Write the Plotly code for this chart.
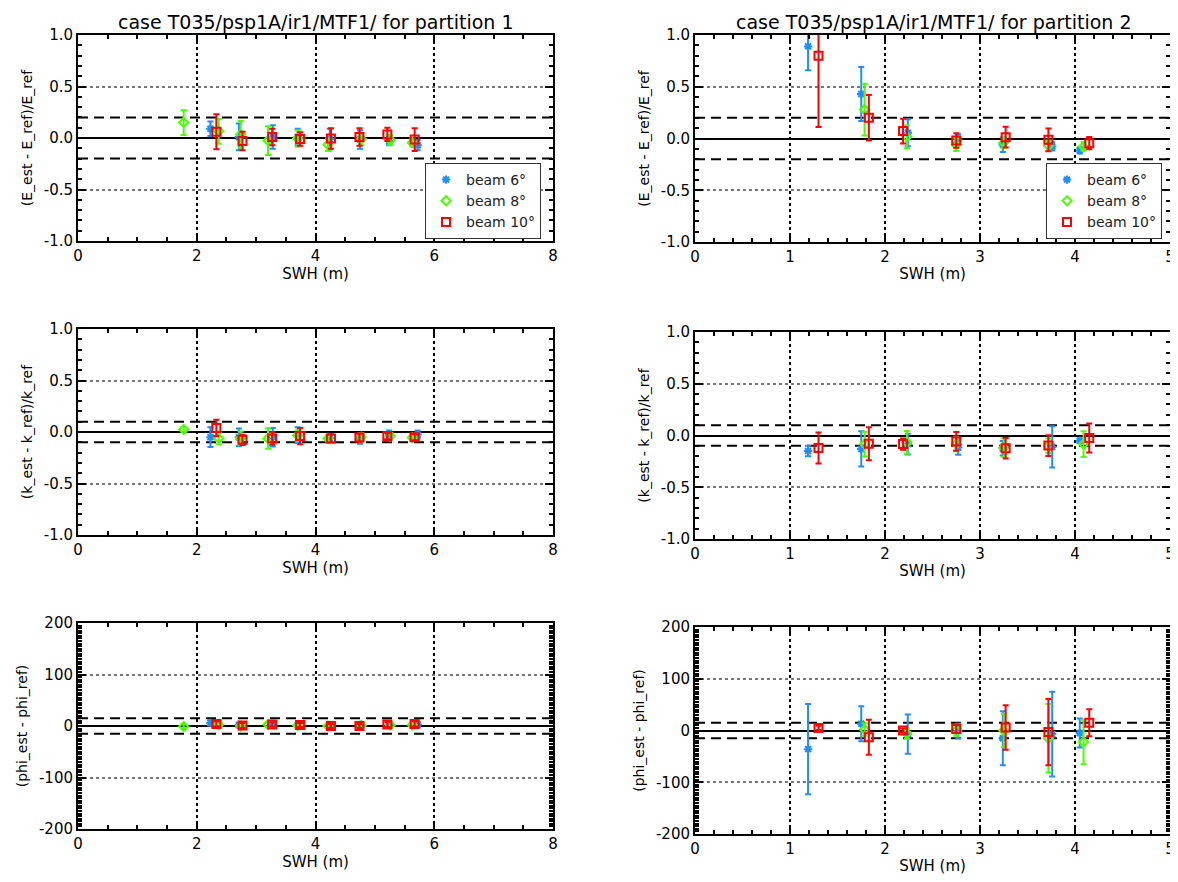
import plotly.graph_objects as go

# ---------------- data ----------------
beam_names = ["beam 6°", "beam 8°", "beam 10°"]
beam_colors = ["#1e8fff", "#4cff00", "#ff0000"]
beam_symbols = ["asterisk-open", "diamond-open", "square-open"]
beam_sizes = [7, 7, 8]

# partition 1
swh_p1_b6 = [2.23, 2.71, 3.28, 3.70, 4.24, 4.75, 5.24, 5.72]
swh_p1_b8 = [1.78, 2.37, 2.74, 3.20, 3.70, 4.21, 4.77, 5.26, 5.63]
swh_p1_b10 = [2.33, 2.77, 3.27, 3.74, 4.26, 4.74, 5.21, 5.67]

E_p1_b6 = [0.09, 0.01, 0.01, 0.01, -0.01, -0.015, -0.03, -0.07]
E_p1_b6_err = [0.07, 0.13, 0.115, 0.08, 0.10, 0.09, 0.04, 0.05]
E_p1_b8 = [0.15, 0.065, 0.035, -0.025, -0.005, -0.065, -0.01, -0.02, -0.045]
E_p1_b8_err = [0.12, 0.12, 0.13, 0.14, 0.08, 0.06, 0.06, 0.05, 0.04]
E_p1_b10 = [0.06, -0.03, 0.01, -0.01, -0.005, 0.01, 0.035, -0.015]
E_p1_b10_err = [0.17, 0.09, 0.08, 0.065, 0.10, 0.085, 0.065, 0.11]

k_p1_b6 = [-0.05, -0.05, -0.05, -0.03, -0.06, -0.065, -0.025, -0.025]
k_p1_b6_err = [0.095, 0.085, 0.09, 0.075, 0.03, 0.05, 0.04, 0.04]
k_p1_b8 = [0.025, -0.063, -0.06, -0.063, -0.035, -0.063, -0.05, -0.04, -0.054]
k_p1_b8_err = [0.02, 0.055, 0.065, 0.10, 0.05, 0.03, 0.04, 0.03, 0.03]
k_p1_b10 = [0.04, -0.076, -0.063, -0.04, -0.063, -0.054, -0.04, -0.05]
k_p1_b10_err = [0.08, 0.05, 0.06, 0.08, 0.04, 0.04, 0.03, 0.03]

phi_p1_b6 = [6, 2, 3, 2, 1, 2, 3, 3]
phi_p1_b6_err = [5, 4, 4, 4, 4, 4, 4, 4]
phi_p1_b8 = [-1, 3, 0, 3, 1, 0, 1, 2, 2]
phi_p1_b8_err = [4, 4, 5, 4, 4, 4, 4, 5, 5]
phi_p1_b10 = [4, 1, 3, 2, 0, 0, 3, 4]
phi_p1_b10_err = [5, 5, 4, 4, 4, 4, 5, 5]

# partition 2
swh_p2_b6 = [1.19, 1.75, 2.24, 2.77, 3.24, 3.76, 4.05]
swh_p2_b8 = [1.785, 2.23, 2.75, 3.25, 3.72, 4.09]
swh_p2_b10 = [1.30, 1.83, 2.19, 2.75, 3.27, 3.72, 4.15]

E_p2_b6 = [0.89, 0.43, 0.055, -0.01, -0.06, -0.077, -0.115]
E_p2_b6_err = [0.23, 0.26, 0.13, 0.05, 0.07, 0.04, 0.03]
E_p2_b8 = [0.28, 0.016, -0.06, -0.04, -0.07, -0.077]
E_p2_b8_err = [0.25, 0.11, 0.06, 0.05, 0.05, 0.04]
E_p2_b10 = [0.80, 0.20, 0.072, -0.02, 0.013, -0.013, -0.045]
E_p2_b10_err = [0.69, 0.22, 0.12, 0.07, 0.10, 0.11, 0.06]

k_p2_b6 = [-0.15, -0.13, -0.083, -0.117, -0.123, -0.11, -0.05]
k_p2_b6_err = [0.05, 0.17, 0.10, 0.07, 0.07, 0.20, 0.02]
k_p2_b8 = [-0.083, -0.067, -0.083, -0.117, -0.10, -0.083]
k_p2_b8_err = [0.12, 0.11, 0.07, 0.09, 0.07, 0.125]
k_p2_b10 = [-0.12, -0.08, -0.083, -0.057, -0.123, -0.097, -0.025]
k_p2_b10_err = [0.15, 0.16, 0.055, 0.09, 0.10, 0.10, 0.14]

phi_p2_b6 = [-36, 13, -7, -1, -15, -7, -5]
phi_p2_b6_err = [87, 34, 38, 14, 52, 82, 28]
phi_p2_b8 = [2, -6, 0, 0, -15, -22]
phi_p2_b8_err = [12, 10, 10, 32, 66, 43]
phi_p2_b10 = [5, -13, 0, 3, 6, -3, 15]
phi_p2_b10_err = [4, 34, 4, 8, 43, 64, 26]

# tolerances / reference levels
E_tol = 0.2
k_tol = 0.1
phi_tol = 15

titles = ["case T035/psp1A/ir1/MTF1/ for partition 1",
          "case T035/psp1A/ir1/MTF1/ for partition 2"]
xtitle = "SWH (m)"
ytitles = ["(E_est - E_ref)/E_ref", "(k_est - k_ref)/k_ref", "(phi_est - phi_ref)"]
x_ticks_p1 = [0, 2, 4, 6, 8]
x_ticks_p2 = [0, 1, 2, 3, 4, 5]
y_ticks_rel = [-1.0, -0.5, 0.0, 0.5, 1.0]
y_ticks_phi = [-200, -100, 0, 100, 200]

# ---------------- layout helpers ----------------
PAGE_OFF = 8               # default body margin of the html page
W, H = 1178 - PAGE_OFF, 882 - PAGE_OFF
FONT = "DejaVu Sans"

def px_x(p):
    return (p - PAGE_OFF) / W

def px_y(p):
    return 1 - (p - PAGE_OFF) / H

# panel frames in page pixels: (left, right, top, bottom)
panels = [
    (78, 553, 35, 241),    # 1: E p1
    (695, 1170, 35, 242),  # 2: E p2
    (78, 553, 329, 535),   # 3: k p1
    (695, 1170, 332, 539), # 4: k p2
    (78, 553, 623, 829),   # 5: phi p1
    (695, 1170, 627, 834), # 6: phi p2
]

panel_data = [
    ([swh_p1_b6, swh_p1_b8, swh_p1_b10], [E_p1_b6, E_p1_b8, E_p1_b10],
     [E_p1_b6_err, E_p1_b8_err, E_p1_b10_err]),
    ([swh_p2_b6, swh_p2_b8, swh_p2_b10], [E_p2_b6, E_p2_b8, E_p2_b10],
     [E_p2_b6_err, E_p2_b8_err, E_p2_b10_err]),
    ([swh_p1_b6, swh_p1_b8, swh_p1_b10], [k_p1_b6, k_p1_b8, k_p1_b10],
     [k_p1_b6_err, k_p1_b8_err, k_p1_b10_err]),
    ([swh_p2_b6, swh_p2_b8, swh_p2_b10], [k_p2_b6, k_p2_b8, k_p2_b10],
     [k_p2_b6_err, k_p2_b8_err, k_p2_b10_err]),
    ([swh_p1_b6, swh_p1_b8, swh_p1_b10], [phi_p1_b6, phi_p1_b8, phi_p1_b10],
     [phi_p1_b6_err, phi_p1_b8_err, phi_p1_b10_err]),
    ([swh_p2_b6, swh_p2_b8, swh_p2_b10], [phi_p2_b6, phi_p2_b8, phi_p2_b10],
     [phi_p2_b6_err, phi_p2_b8_err, phi_p2_b10_err]),
]
tols = [E_tol, E_tol, k_tol, k_tol, phi_tol, phi_tol]

fig = go.Figure()
layout = dict(
    width=W, height=H,
    margin=dict(l=0, r=0, t=0, b=0, autoexpand=False),
    paper_bgcolor="white", plot_bgcolor="white",
    showlegend=True,
    font=dict(family=FONT, color="black", size=14),
)

shapes = []
for i, (l, r, t, b) in enumerate(panels):
    n = i + 1
    sfx = "" if n == 1 else str(n)
    is_p1 = (i % 2 == 0)
    row = i // 2
    xs, ys, es = panel_data[i]
    for j in range(3):
        leg = None
        show = False
        if i == 0:
            leg, show = "legend", True
        elif i == 1:
            leg, show = "legend2", True
        tr = go.Scatter(
            x=xs[j], y=ys[j], mode="markers",
            name=beam_names[j],
            marker=dict(symbol=beam_symbols[j], size=beam_sizes[j],
                        color=beam_colors[j],
                        line=dict(color=beam_colors[j], width=2)),
            error_y=dict(type="data", array=es[j], symmetric=True,
                         color=beam_colors[j], thickness=2, width=3),
            xaxis="x" + sfx, yaxis="y" + sfx,
            showlegend=show,
        )
        if leg:
            tr.update(legend=leg)
        fig.add_trace(tr)

    xt = x_ticks_p1 if is_p1 else x_ticks_p2
    xaxis = dict(
        domain=[px_x(l), px_x(r)], anchor="y" + sfx, automargin=False,
        range=[xt[0], xt[-1]],
        tickmode="array", tickvals=xt, ticktext=[str(v) for v in xt],
        ticklabeloverflow="allow",
        showline=True, linecolor="black", linewidth=2, mirror="allticks",
        ticks="inside", ticklen=8, tickwidth=1.5, tickcolor="black",
        showgrid=True, gridcolor="black", griddash="dot", gridwidth=2,
        zeroline=False,
        minor=dict(dtick=0.5 if is_p1 else 0.2, ticks="inside", ticklen=4,
                   tickwidth=1.5, tickcolor="black", showgrid=False),
        tickfont=dict(family=FONT, size=15, color="black"),
        title=dict(text=xtitle, font=dict(family=FONT, size=15, color="black"),
                   standoff=3),
    )
    yt = y_ticks_phi if row == 2 else y_ticks_rel
    ytext = [str(v) for v in yt] if row == 2 else ["%.1f" % v for v in yt]
    yaxis = dict(
        domain=[px_y(b), px_y(t)], anchor="x" + sfx, automargin=False,
        range=[yt[0], yt[-1]],
        tickmode="array", tickvals=yt, ticktext=ytext,
        showline=True, linecolor="black", linewidth=2, mirror="allticks",
        ticks="inside", ticklen=8, tickwidth=1.5, tickcolor="black",
        showgrid=True, gridcolor="#777777", griddash="dot", gridwidth=1.5,
        zeroline=True, zerolinecolor="black", zerolinewidth=2,
        minor=dict(dtick=5 if row == 2 else 0.1, ticks="inside", ticklen=4,
                   tickwidth=1.5, tickcolor="black", showgrid=False),
        tickfont=dict(family=FONT, size=15, color="black"),
        title=dict(text=ytitles[row], font=dict(family=FONT, size=14, color="black"),
                   standoff=8),
    )
    layout["xaxis" + sfx] = xaxis
    layout["yaxis" + sfx] = yaxis
    for s in (1, -1):
        shapes.append(dict(type="line", xref="x" + sfx + " domain", x0=0, x1=1,
                           yref="y" + sfx, y0=s * tols[i], y1=s * tols[i],
                           line=dict(color="black", width=2, dash="10px,6px"),
                           layer="below"))

layout["shapes"] = shapes
layout["annotations"] = [
    dict(text=titles[0], xref="paper", yref="paper",
         x=px_x((78 + 553) / 2), y=px_y(22), xanchor="center", yanchor="middle",
         showarrow=False, font=dict(family=FONT, size=19, color="black")),
    dict(text=titles[1], xref="paper", yref="paper",
         x=px_x((695 + 1172) / 2), y=px_y(22), xanchor="center", yanchor="middle",
         showarrow=False, font=dict(family=FONT, size=19, color="black")),
]
leg_common = dict(bgcolor="white", bordercolor="#333333", borderwidth=1,
                  font=dict(family=FONT, size=14, color="#222222"),
                  xanchor="right", yanchor="top", tracegroupgap=0)
layout["legend"] = dict(x=px_x(541), y=px_y(163), **leg_common)
layout["legend2"] = dict(x=px_x(1162), y=px_y(163), **leg_common)

fig.update_layout(**layout)
fig.write_html("out.html")
